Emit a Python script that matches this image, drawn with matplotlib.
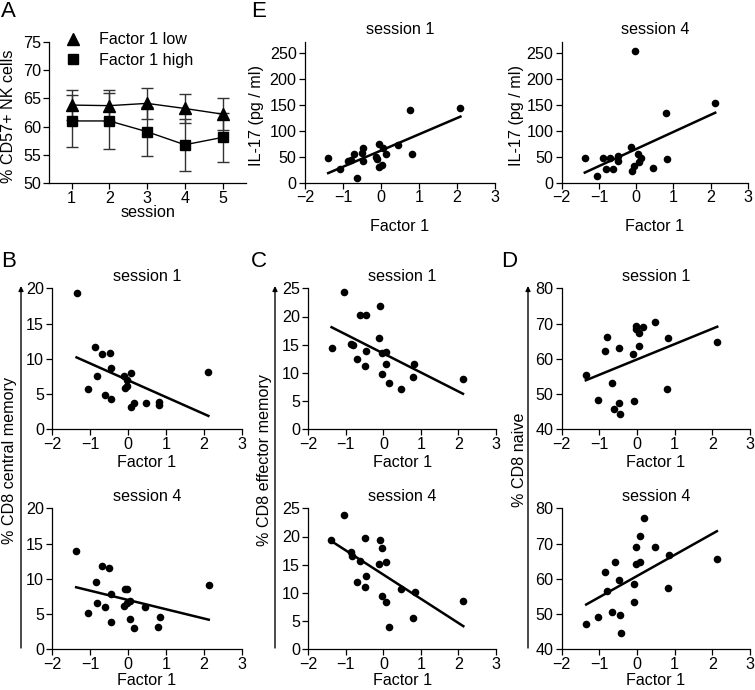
import matplotlib.pyplot as plt
import matplotlib.patches as mpatches
from matplotlib.lines import Line2D

plt.rcParams['font.family'] = ['Liberation Sans', 'DejaVu Sans']
plt.rcParams['font.size'] = 11.6
plt.rcParams['axes.linewidth'] = 0.9
plt.rcParams['xtick.major.width'] = 0.9
plt.rcParams['ytick.major.width'] = 0.9
plt.rcParams['xtick.major.size'] = 4
plt.rcParams['ytick.major.size'] = 4
plt.rcParams['xtick.major.pad'] = 1.5
plt.rcParams['ytick.major.pad'] = 2

# ---- panel A: % CD57+ NK cells by session
sessions = [1, 2, 3, 4, 5]
low_mean = [63.8, 63.7, 64.1, 63.2, 62.2]
low_err = [2.6, 2.7, 2.8, 2.6, 2.8]
high_mean = [61.0, 61.0, 59.1, 56.8, 58.1]
high_err = [4.6, 4.9, 4.3, 4.6, 4.3]

# ---- panel E: IL-17 vs Factor 1
e1_x = [-1.39, -1.07, -0.86, -0.80, -0.70, -0.48, -0.50, -0.48, -0.64, -0.12,
        -0.10, -0.06, -0.04, 0.03, 0.04, 0.13, 0.44, 0.77, 0.81, 2.07]
e1_y = [48, 26, 41, 43, 56, 66, 57, 41, 10, 50,
        46, 75, 31, 34, 67, 55, 72, 141, 55, 144]
e1_fit_x = [-1.39, 2.09]
e1_fit_y = [18.5, 127.5]

e4_x = [-1.38, -1.06, -0.88, -0.82, -0.70, -0.62, -0.49, -0.49, -0.13, -0.11,
        -0.04, -0.05, 0.05, 0.07, 0.14, 0.46, 0.79, 0.83, 2.12]
e4_y = [48, 12, 48, 26, 47, 27, 51, 42, 68, 23,
        255, 33, 55, 40, 47, 29, 135, 45, 153]
e4_fit_x = [-1.38, 2.12]
e4_fit_y = [19.5, 135]

# ---- panel B: % CD8 central memory
b1_x = [-1.36, -0.86, -1.05, -0.81, -0.68, -0.60, -0.48, -0.46, -0.45, -0.10,
        -0.09, -0.03, -0.04, 0.07, 0.07, 0.16, 0.47, 0.81, 0.82, 2.12]
b1_y = [19.4, 11.7, 5.7, 7.5, 10.7, 4.8, 10.8, 8.7, 4.3, 7.6,
        5.9, 6.1, 7.0, 8.0, 3.1, 3.8, 3.7, 3.5, 3.9, 8.1]
b1_fit_x = [-1.36, 2.12]
b1_fit_y = [10.2, 1.9]

b4_x = [-1.37, -0.68, -0.49, -0.85, -0.46, -0.09, -0.03, -0.81, -0.61, -0.12,
        -0.04, 0.06, 0.46, -1.05, -0.45, 0.05, 0.17, 0.79, 0.84, 2.13]
b4_y = [13.9, 11.8, 11.5, 9.6, 7.9, 8.6, 8.6, 6.5, 6.05, 6.2,
        6.6, 6.8, 6.0, 5.1, 3.9, 4.35, 3.0, 3.2, 4.6, 9.1]
b4_fit_x = [-1.37, 2.13]
b4_fit_y = [8.8, 4.2]

# ---- panel C: % CD8 effector memory
c1_x = [-1.37, -1.04, -0.85, -0.80, -0.69, -0.63, -0.46, -0.46, -0.49, -0.10,
        -0.12, -0.04, -0.04, 0.06, 0.06, 0.16, 0.47, 0.80, 0.82, 2.11]
c1_y = [14.5, 24.3, 15.1, 15.0, 12.4, 20.2, 20.3, 13.8, 11.3, 21.9,
        16.1, 9.8, 13.6, 13.7, 11.5, 8.2, 7.2, 9.3, 11.5, 9.0]
c1_fit_x = [-1.38, 2.12]
c1_fit_y = [18.1, 6.3]

c4_x = [-1.39, -1.05, -0.85, -0.83, -0.62, -0.69, -0.48, -0.46, -0.49, -0.10,
        -0.05, -0.12, 0.06, -0.04, 0.06, 0.16, 0.47, 0.83, 0.80, 2.13]
c4_y = [19.4, 23.8, 17.3, 16.6, 15.7, 11.9, 19.7, 13.0, 11.0, 19.4,
        17.9, 15.2, 15.5, 9.4, 8.3, 3.9, 10.7, 10.2, 5.6, 8.6]
c4_fit_x = [-1.39, 2.13]
c4_fit_y = [19.2, 4.1]

# ---- panel D: % CD8 naive
d1_x = [-1.36, -1.04, -0.80, -0.85, -0.67, -0.60, -0.48, -0.46, -0.48, -0.11,
        -0.09, -0.04, -0.03, 0.05, 0.06, 0.16, 0.47, 0.82, 0.80, 2.12]
d1_y = [55.3, 48.4, 66.3, 62.3, 53.1, 45.9, 47.5, 44.2, 63.2, 61.5,
        48.1, 69.2, 68.4, 67.2, 63.7, 68.9, 70.3, 65.8, 51.5, 64.8]
d1_fit_x = [-1.36, 2.13]
d1_fit_y = [53.9, 69.1]

d4_x = [-1.35, -1.03, -0.84, -0.81, -0.66, -0.59, -0.47, -0.45, -0.43, -0.09,
        -0.07, -0.04, -0.04, 0.07, 0.07, 0.19, 0.48, 0.84, 0.81, 2.12]
d4_y = [47.2, 49.3, 62.0, 56.6, 50.7, 64.9, 59.8, 49.6, 44.7, 58.6,
        53.3, 68.9, 64.2, 64.9, 72.2, 77.3, 68.9, 66.7, 57.4, 65.5]
d4_fit_x = [-1.35, 2.12]
d4_fit_y = [52.7, 73.5]

factor_ticks = [-2, -1, 0, 1, 2, 3]

W, H = 755, 690
fig = plt.figure(figsize=(W / 100, H / 100), dpi=100)


def px_rect(l, t, r, b):
    return [l / W, 1 - b / H, (r - l) / W, (b - t) / H]


def style(ax):
    ax.spines['top'].set_visible(False)
    ax.spines['right'].set_visible(False)
    ax.tick_params(direction='out')


def scatter_panel(rect, xs, ys, fx, fy, ylim, yticks, title, xlab_y):
    ax = fig.add_axes(px_rect(*rect))
    style(ax)
    ax.scatter(xs, ys, s=30, color='black', zorder=3, clip_on=False, linewidths=0)
    ax.plot(fx, fy, color='black', lw=1.8, zorder=2)
    ax.set_xlim(-2, 3)
    ax.set_xticks(factor_ticks)
    ax.set_ylim(*ylim)
    ax.set_yticks(yticks)
    ax.set_title(title, pad=5.5, fontsize=11.6)
    ax.set_xlabel('Factor 1')
    ax.xaxis.set_label_coords(0.5, xlab_y)
    return ax


# panel A
axA = fig.add_axes(px_rect(49.3, 41.6, 246, 183.3))
style(axA)
axA.errorbar(sessions, low_mean, yerr=low_err, fmt='none', ecolor='#333333',
             elinewidth=1, capsize=4.5, capthick=1, zorder=1)
axA.errorbar(sessions, high_mean, yerr=high_err, fmt='none', ecolor='#333333',
             elinewidth=1, capsize=4.5, capthick=1, zorder=1)
axA.plot(sessions, low_mean, color='black', lw=1, marker='^', ms=8, zorder=3)
axA.plot(sessions, high_mean, color='black', lw=1, marker='s', ms=7, zorder=3)
axA.set_xlim(0.41, 5.62)
axA.set_xticks(sessions)
axA.set_ylim(50, 75)
axA.set_yticks([50, 55, 60, 65, 70, 75])
axA.set_xlabel('session', labelpad=0)
axA.xaxis.set_label_coords(0.5, -0.155)
handles = [Line2D([], [], color='black', marker='^', ms=8, ls='none'),
           Line2D([], [], color='black', marker='s', ms=7, ls='none')]
axA.legend(handles, ['Factor 1 low', 'Factor 1 high'], loc='upper left',
           bbox_to_anchor=(0.08, 1.065), frameon=False, handlelength=1.0,
           handletextpad=1.1, labelspacing=0.35, borderpad=0, borderaxespad=0)

# panel E
scatter_panel((305, 41.7, 495, 182.7), e1_x, e1_y, e1_fit_x, e1_fit_y,
              (0, 272), [0, 50, 100, 150, 200, 250], 'session 1', -0.26)
scatter_panel((561.7, 41.7, 748, 182.7), e4_x, e4_y, e4_fit_x, e4_fit_y,
              (0, 272), [0, 50, 100, 150, 200, 250], 'session 4', -0.26)

# panels B, C, D
row1 = (288.3, 429.3)
row2 = (508.3, 649.3)
scatter_panel((52.3, row1[0], 241.7, row1[1]), b1_x, b1_y, b1_fit_x, b1_fit_y,
              (0, 20), [0, 5, 10, 15, 20], 'session 1', -0.18)
scatter_panel((52.3, row2[0], 241.7, row2[1]), b4_x, b4_y, b4_fit_x, b4_fit_y,
              (0, 20), [0, 5, 10, 15, 20], 'session 4', -0.165)
scatter_panel((308.3, row1[0], 496, row1[1]), c1_x, c1_y, c1_fit_x, c1_fit_y,
              (0, 25), [0, 5, 10, 15, 20, 25], 'session 1', -0.18)
scatter_panel((308.3, row2[0], 496, row2[1]), c4_x, c4_y, c4_fit_x, c4_fit_y,
              (0, 25), [0, 5, 10, 15, 20, 25], 'session 4', -0.165)
scatter_panel((561.7, row1[0], 750, row1[1]), d1_x, d1_y, d1_fit_x, d1_fit_y,
              (40, 80), [40, 50, 60, 70, 80], 'session 1', -0.18)
scatter_panel((561.7, row2[0], 750, row2[1]), d4_x, d4_y, d4_fit_x, d4_fit_y,
              (40, 80), [40, 50, 60, 70, 80], 'session 4', -0.165)

# y labels
fig.text(9 / W, 1 - 116 / H, '% CD57+ NK cells', rotation=90, ha='center', va='center')
fig.text(257 / W, 1 - 116 / H, 'IL-17 (pg / ml)', rotation=90, ha='center', va='center')
fig.text(516 / W, 1 - 116 / H, 'IL-17 (pg / ml)', rotation=90, ha='center', va='center')
shared = [(10, 21, '% CD8 central memory'),
          (265, 275, '% CD8 effector memory'),
          (519, 528, '% CD8 naive')]
for tx, arrow_x, label in shared:
    fig.text(tx / W, 1 - 460 / H, label, rotation=90, ha='center', va='center')
    fig.add_artist(mpatches.FancyArrowPatch(
        (arrow_x / W, 1 - 648 / H), (arrow_x / W, 1 - 286 / H),
        transform=fig.transFigure, arrowstyle='-|>', mutation_scale=7,
        lw=1.0, color='black', shrinkA=0, shrinkB=0))

# panel letters
for letter, lx, ly in [('A', 1, 1), ('E', 251, 1), ('B', 1, 251),
                       ('C', 251, 251), ('D', 501, 251)]:
    fig.text(lx / W, 1 - ly / H, letter, fontsize=16, ha='left', va='top')

fig.savefig('out.png', dpi=100)
